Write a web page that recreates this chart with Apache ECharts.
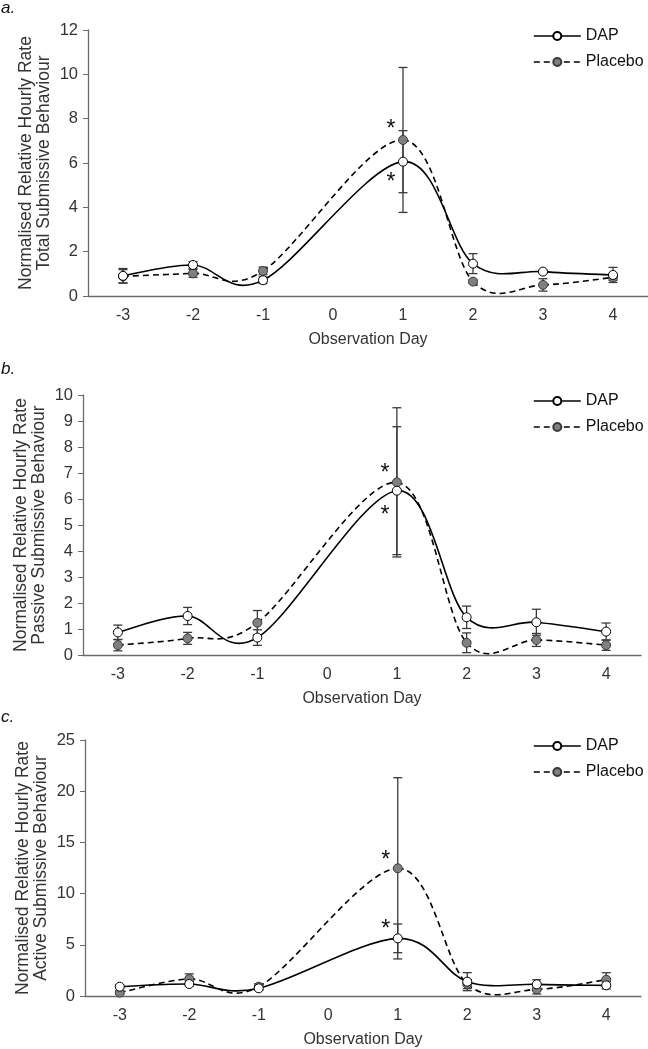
<!DOCTYPE html>
<html>
<head>
<meta charset="utf-8">
<script src="https://cdn.jsdelivr.net/npm/echarts@6/dist/echarts.min.js"></script>
<style>
  html, body { margin: 0; padding: 0; background: #fff; }
  #chart { width: 648px; height: 1049px; }
</style>
</head>
<body>
<div id="chart"></div>
<script>
// observation days (no measurement on day 0)
var days = ['-3', '-2', '-1', '0', '1', '2', '3', '4'];

// a. total submissive behaviour
var dapA = [0.91, 1.40, 0.71, null, 6.06, 1.46, 1.10, 0.95];
var dapAErr = [0.33, 0.15, 0.15, null, 1.40, 0.45, 0.06, 0.34];
var plcA = [0.89, 1.02, 1.13, null, 7.04, 0.65, 0.50, 0.84];
var plcAErr = [0.30, 0.18, 0.17, null, 3.27, 0.08, 0.28, 0.14];
var starA = [7.71, 5.32];

// b. passive submissive behaviour
var dapB = [0.87, 1.50, 0.67, null, 6.32, 1.45, 1.26, 0.90];
var dapBErr = [0.28, 0.33, 0.30, null, 2.46, 0.43, 0.50, 0.33];
var plcB = [0.38, 0.64, 1.24, null, 6.64, 0.47, 0.58, 0.38];
var plcBErr = [0.22, 0.23, 0.47, null, 2.87, 0.38, 0.25, 0.20];
var starB = [7.15, 5.55];

// c. active submissive behaviour
var dapC = [0.91, 1.17, 0.75, null, 5.63, 1.40, 1.14, 1.04];
var dapCErr = [0.15, 0.20, 0.20, null, 1.40, 0.88, 0.45, 0.35];
var plcC = [0.33, 1.66, 0.91, null, 12.47, 1.17, 0.65, 1.59];
var plcCErr = [0.15, 0.50, 0.30, null, 8.85, 0.45, 0.45, 0.68];
var starC = [13.7, 6.98];

var yTitles = [
  'Normalised Relative Hourly Rate\nTotal Submissive Behaviour',
  'Normalised Relative Hourly Rate\nPassive Submissive Behaviour',
  'Normalised Relative Hourly Rate\nActive Submissive Behaviour'
];
var yMax = [12, 10, 25];
var yStep = [2, 1, 5];
var letters = ['a.', 'b.', 'c.'];

var FONT = '"Liberation Sans", Arial, sans-serif';
var TXT = '#333';
var DASH = [6, 4];

var grids = [
  { left: 88, top: 30, width: 560, height: 266 },
  { left: 83, top: 395, width: 558, height: 260 },
  { left: 85, top: 740, width: 556, height: 256 }
];
var titleTops = [0, 361, 709];
var legendTops = [28, 393, 738];

function errData(vals, errs) {
  var out = [];
  for (var i = 0; i < vals.length; i++) {
    if (vals[i] == null) continue;
    out.push([i, vals[i] - errs[i], vals[i] + errs[i]]);
  }
  return out;
}

function pointData(vals) {
  var out = [];
  for (var i = 0; i < vals.length; i++) {
    if (vals[i] != null) out.push([i, vals[i]]);
  }
  return out;
}

function renderErr(params, api) {
  var x = api.value(0);
  var lo = api.coord([x, api.value(1)]);
  var hi = api.coord([x, api.value(2)]);
  var w = 4.5;
  var st = { stroke: '#3a3a3a', lineWidth: 1.3 };
  return {
    type: 'group',
    children: [
      { type: 'line', shape: { x1: lo[0], y1: lo[1], x2: hi[0], y2: hi[1] }, style: st },
      { type: 'line', shape: { x1: lo[0] - w, y1: lo[1], x2: lo[0] + w, y2: lo[1] }, style: st },
      { type: 'line', shape: { x1: hi[0] - w, y1: hi[1], x2: hi[0] + w, y2: hi[1] }, style: st }
    ]
  };
}

// spreadsheet-style smoothed line: one bezier per segment, tangents from neighbours
function curveRenderer(pts, dash) {
  return function (params, api) {
    var i = params.dataIndex;
    if (i >= pts.length - 1) return null;
    function P(j) {
      j = Math.max(0, Math.min(pts.length - 1, j));
      return api.coord(pts[j]);
    }
    var p0 = P(i - 1), p1 = P(i), p2 = P(i + 1), p3 = P(i + 2);
    return {
      type: 'bezierCurve',
      shape: {
        x1: p1[0], y1: p1[1], x2: p2[0], y2: p2[1],
        cpx1: p1[0] + (p2[0] - p0[0]) / 6, cpy1: p1[1] + (p2[1] - p0[1]) / 6,
        cpx2: p2[0] - (p3[0] - p1[0]) / 6, cpy2: p2[1] - (p3[1] - p1[1]) / 6
      },
      style: { stroke: '#000', lineWidth: 1.6, fill: null, lineDash: dash }
    };
  };
}

function renderStar(params, api) {
  var p = api.coord([api.value(0), api.value(1)]);
  return {
    type: 'text',
    x: p[0] - 12,
    y: p[1] + 5,
    style: { text: '*', fontSize: 23, fontFamily: FONT, fill: '#111', align: 'center', verticalAlign: 'middle' }
  };
}

var panels = [
  { dap: dapA, dapErr: dapAErr, plc: plcA, plcErr: plcAErr, star: starA },
  { dap: dapB, dapErr: dapBErr, plc: plcB, plcErr: plcBErr, star: starB },
  { dap: dapC, dapErr: dapCErr, plc: plcC, plcErr: plcCErr, star: starC }
];

var option = {
  animation: false,
  backgroundColor: '#fff',
  title: [], grid: [], xAxis: [], yAxis: [], legend: [], series: []
};

panels.forEach(function (p, k) {
  var dapPts = pointData(p.dap);
  var plcPts = pointData(p.plc);

  option.title.push({
    text: letters[k], left: 1, top: titleTops[k], padding: 0,
    textStyle: { fontFamily: FONT, fontSize: 17, fontStyle: 'italic', fontWeight: 'normal', color: '#111' }
  });
  option.grid.push(grids[k]);
  option.xAxis.push({
    type: 'category', gridIndex: k, data: days, boundaryGap: true,
    name: 'Observation Day', nameLocation: 'middle', nameGap: 36,
    nameTextStyle: { fontFamily: FONT, fontSize: 16, color: TXT },
    axisLine: { lineStyle: { color: '#6b6b6b', width: 1.3 } },
    axisTick: { show: false },
    axisLabel: { fontFamily: FONT, fontSize: 16, color: TXT, margin: 12 },
    splitLine: { show: false }
  });
  option.yAxis.push({
    type: 'value', gridIndex: k, min: 0, max: yMax[k], interval: yStep[k],
    name: yTitles[k], nameLocation: 'middle', nameGap: 35, nameRotate: 90,
    nameMoveOverlap: false,
    nameTextStyle: { fontFamily: FONT, fontSize: 17.5, color: TXT, lineHeight: 18 },
    axisLine: { show: true, lineStyle: { color: '#6b6b6b', width: 1.3 } },
    axisTick: { show: true, length: 5, lineStyle: { color: '#6b6b6b' } },
    axisLabel: { fontFamily: FONT, fontSize: 16.5, color: TXT, margin: 10 },
    splitLine: { show: false }
  });
  option.legend.push({
    orient: 'vertical', left: 533, top: legendTops[k], padding: 0,
    itemWidth: 47, itemHeight: 10, itemGap: 10,
    textStyle: { fontFamily: FONT, fontSize: 16, color: '#111' },
    data: [
      { name: 'DAP', lineStyle: { opacity: 1, color: '#000', width: 1.6, type: 'solid' } },
      { name: 'Placebo', lineStyle: { opacity: 1, color: '#000', width: 1.6, type: DASH } }
    ]
  });
  // markers (their own line is hidden; the curve is drawn below)
  option.series.push({
    type: 'line', name: 'Placebo', xAxisIndex: k, yAxisIndex: k, z: 3,
    data: p.plc, connectNulls: true,
    symbol: 'circle', symbolSize: 9, showAllSymbol: true,
    lineStyle: { color: '#000', width: 1.6, type: DASH, opacity: 0 },
    itemStyle: { color: '#808080', borderColor: '#3a3a3a', borderWidth: 1 },
    emphasis: { disabled: true }
  });
  option.series.push({
    type: 'line', name: 'DAP', xAxisIndex: k, yAxisIndex: k, z: 4,
    data: p.dap, connectNulls: true,
    symbol: 'circle', symbolSize: 9, showAllSymbol: true,
    lineStyle: { color: '#000', width: 1.6, opacity: 0 },
    itemStyle: { color: '#fff', borderColor: '#000', borderWidth: 1 },
    emphasis: { disabled: true }
  });
  option.series.push({
    type: 'custom', name: 'err', xAxisIndex: k, yAxisIndex: k, z: 1,
    renderItem: renderErr, encode: { x: 0, y: [1, 2] },
    data: errData(p.dap, p.dapErr).concat(errData(p.plc, p.plcErr)),
    silent: true
  });
  option.series.push({
    type: 'custom', name: 'plcCurve', xAxisIndex: k, yAxisIndex: k, z: 2,
    renderItem: curveRenderer(plcPts, DASH), encode: { x: 0, y: 1 },
    data: plcPts, silent: true
  });
  option.series.push({
    type: 'custom', name: 'dapCurve', xAxisIndex: k, yAxisIndex: k, z: 2,
    renderItem: curveRenderer(dapPts, null), encode: { x: 0, y: 1 },
    data: dapPts, silent: true
  });
  option.series.push({
    type: 'custom', name: 'star', xAxisIndex: k, yAxisIndex: k, z: 5,
    renderItem: renderStar, encode: { x: 0, y: 1 },
    data: p.star.map(function (v) { return [4, v]; }),
    silent: true
  });
});

var chart = echarts.init(document.getElementById('chart'), null, { renderer: 'canvas' });
chart.setOption(option);
</script>
</body>
</html>
